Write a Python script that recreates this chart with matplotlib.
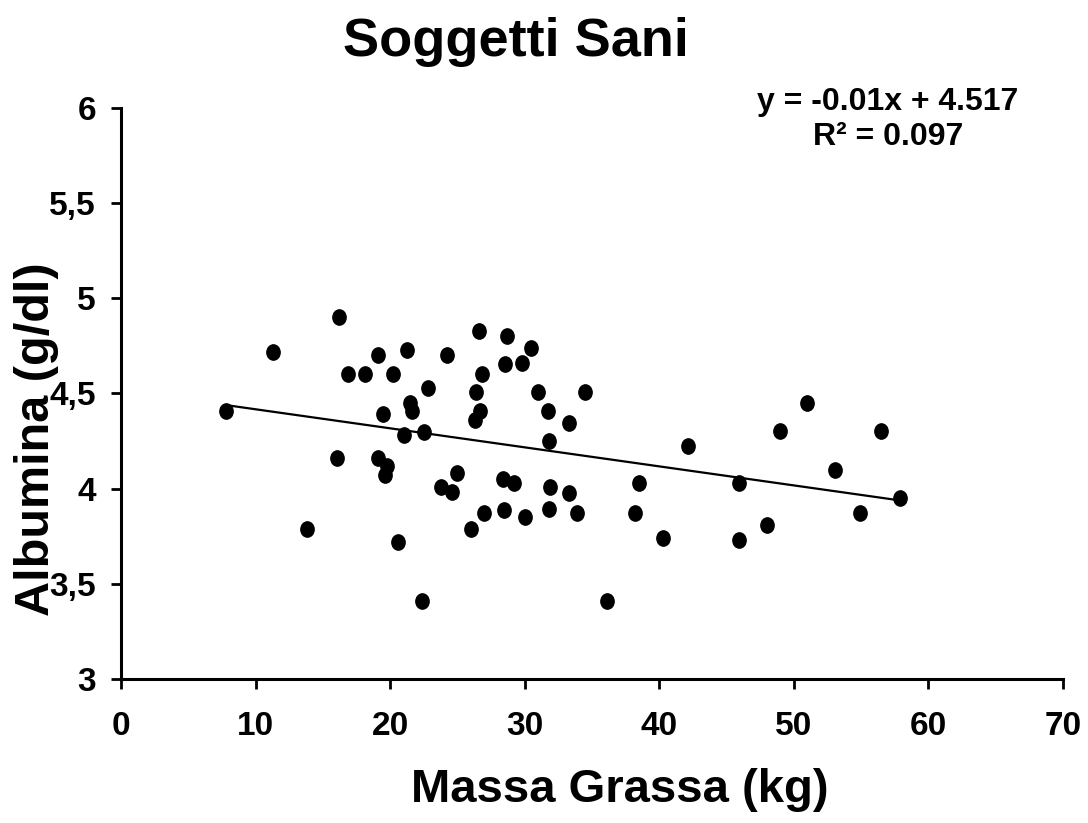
import numpy as np
import matplotlib
matplotlib.use("Agg")
import matplotlib.pyplot as plt
from matplotlib.path import Path
from matplotlib.transforms import Affine2D

plt.rcParams['font.family'] = ['Liberation Sans', 'DejaVu Sans']
plt.rcParams['font.weight'] = 'bold'

# Massa grassa (kg) vs albumina (g/dl), soggetti sani
massa_grassa = [7.8, 11.3, 13.8, 16.2, 16.05, 16.9, 18.1, 19.1, 19.1, 19.5,
                19.6, 19.8, 20.2, 20.6, 21.0, 21.25, 21.5, 21.6, 22.4, 22.5,
                22.8, 23.8, 24.2, 24.6, 25.0, 26.0, 26.3, 26.4, 26.6, 26.7,
                26.8, 27.0, 28.4, 28.45, 28.5, 28.7, 29.2, 29.8, 30.0, 30.5,
                31.0, 31.7, 31.8, 31.8, 31.9, 33.3, 33.3, 33.9, 34.5, 36.1,
                38.2, 38.5, 40.3, 42.1, 45.9, 45.9, 48.0, 49.0, 51.0, 53.05,
                54.9, 56.5, 57.9]
albumina = [4.41, 4.72, 3.79, 4.90, 4.16, 4.60, 4.60, 4.70, 4.16, 4.39,
            4.07, 4.12, 4.60, 3.72, 4.28, 4.73, 4.45, 4.41, 3.41, 4.30,
            4.53, 4.01, 4.70, 3.98, 4.08, 3.79, 4.36, 4.51, 4.83, 4.41,
            4.60, 3.87, 4.05, 3.89, 4.655, 4.80, 4.03, 4.66, 3.85, 4.74,
            4.51, 4.41, 3.895, 4.25, 4.01, 4.345, 3.975, 3.87, 4.51, 3.41,
            3.87, 4.03, 3.74, 4.225, 4.03, 3.73, 3.81, 4.305, 4.45, 4.10,
            3.87, 4.305, 3.95]

slope = -0.01
intercept = 4.517
r2 = 0.097

x_ticks = [0, 10, 20, 30, 40, 50, 60, 70]
y_ticks = [3, 3.5, 4, 4.5, 5, 5.5, 6]
y_tick_labels = ['3', '3,5', '4', '4,5', '5', '5,5', '6']

fig = plt.figure(figsize=(10.88, 8.23), dpi=100)
ax = fig.add_axes([0.1112, 0.175, 0.8658, 0.6938])

# slightly tall elliptical dots like the original
dot = Path.unit_circle().transformed(Affine2D().scale(0.87, 1.0))
ax.plot(massa_grassa, albumina, linestyle='none', marker=dot,
        markersize=11, color='black', clip_on=False, zorder=3)

xs = np.array([min(massa_grassa), max(massa_grassa)])
ax.plot(xs, slope * xs + intercept, color='black', linewidth=1.6, zorder=2)

ax.set_xlim(0, 70)
ax.set_ylim(3, 6)
ax.set_xticks(x_ticks)
ax.set_yticks(y_ticks)
ax.set_yticklabels(y_tick_labels)

for s in ['top', 'right']:
    ax.spines[s].set_visible(False)
for s in ['left', 'bottom']:
    ax.spines[s].set_linewidth(2.2)

ax.tick_params(axis='both', direction='out', length=7, width=2,
               labelsize=24)
ax.tick_params(axis='x', pad=16)
ax.tick_params(axis='y', pad=11)

ax.set_xlabel('Massa Grassa (kg)', fontsize=34, fontweight='bold')
ax.xaxis.set_label_coords(0.53, -0.195)
ax.xaxis.label.set_va('center')
ax.set_ylabel('Albumina (g/dl)', fontsize=35, fontweight='bold')
ax.yaxis.set_label_coords(-0.066, 0.42)

fig.text(0.474, 0.949, 'Soggetti Sani', fontsize=39, fontweight='bold',
         ha='center', va='center')

ax.text(0.814, 0.98, f'y = {slope}x + {intercept}\nR² = {r2}',
        transform=ax.transAxes, ha='center', va='center', fontsize=23,
        fontweight='bold', linespacing=1.25)

fig.savefig('out.png', dpi=100)
